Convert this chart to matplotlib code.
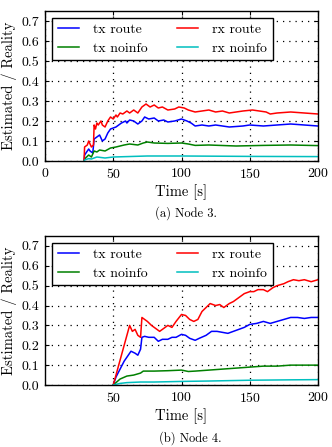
import matplotlib
matplotlib.use("Agg")
import matplotlib.pyplot as plt

plt.rcParams['font.family'] = 'serif'
plt.rcParams['font.serif'] = ['cmr10', 'DejaVu Serif']
plt.rcParams['axes.formatter.use_mathtext'] = True
plt.rcParams['mathtext.fontset'] = 'cm'

# ---------------- Node 3 data ----------------
n3_rx_route_t = [28.6, 29, 31, 32, 34, 35.5, 36, 37, 38, 39, 41, 42, 44, 46, 48, 50, 52, 53, 55, 57, 60,
                 62, 65, 68, 71, 74, 77, 80, 83, 86, 90, 95, 98, 102, 105, 110, 115, 120, 125, 130, 135,
                 140, 145, 152, 157, 162, 165, 170, 180, 190, 200]
n3_rx_route_v = [0.0, 0.07, 0.08, 0.10, 0.07, 0.08, 0.18, 0.16, 0.19, 0.18, 0.20, 0.18, 0.17, 0.20, 0.22,
                 0.21, 0.23, 0.22, 0.24, 0.235, 0.25, 0.24, 0.255, 0.24, 0.27, 0.285, 0.27, 0.28, 0.265,
                 0.27, 0.255, 0.26, 0.27, 0.265, 0.255, 0.245, 0.25, 0.255, 0.245, 0.25, 0.24, 0.245,
                 0.25, 0.255, 0.25, 0.245, 0.235, 0.24, 0.245, 0.24, 0.235]

n3_tx_route_t = [28.6, 29, 32, 33, 35, 36, 38, 40, 42, 44, 46, 48, 52, 54, 56, 59, 60, 62, 65, 68, 71,
                 73, 76, 80, 83, 87, 90, 95, 100, 104, 107, 110, 115, 120, 125, 135, 145, 150, 160, 170,
                 180, 190, 200]
n3_tx_route_v = [0.0, 0.03, 0.06, 0.05, 0.04, 0.11, 0.12, 0.13, 0.10, 0.11, 0.14, 0.16, 0.17, 0.18, 0.19,
                 0.20, 0.19, 0.205, 0.20, 0.185, 0.20, 0.22, 0.21, 0.215, 0.20, 0.205, 0.195, 0.20, 0.21,
                 0.20, 0.19, 0.175, 0.18, 0.175, 0.18, 0.17, 0.175, 0.18, 0.175, 0.18, 0.185, 0.18, 0.175]

n3_tx_noinfo_t = [28.6, 29, 32, 34, 36, 38, 40, 44, 48, 52, 55, 58, 62, 68, 72, 75, 80, 90, 100, 105,
                  110, 120, 140, 160, 180, 200]
n3_tx_noinfo_v = [0.0, 0.01, 0.03, 0.02, 0.05, 0.045, 0.055, 0.05, 0.065, 0.07, 0.075, 0.08, 0.085, 0.08,
                  0.09, 0.095, 0.09, 0.088, 0.09, 0.085, 0.078, 0.08, 0.075, 0.078, 0.08, 0.077]

n3_rx_noinfo_t = [28.6, 29, 32, 34, 38, 44, 50, 60, 75, 100, 150, 200]
n3_rx_noinfo_v = [0.0, 0.005, 0.012, 0.01, 0.02, 0.015, 0.02, 0.022, 0.025, 0.025, 0.023, 0.022]

# ---------------- Node 4 data ----------------
n4_rx_route_t = [50, 52, 54, 56, 58, 60, 62, 64, 66, 68, 70, 71, 73, 75, 78, 80, 84, 86, 90, 93, 96,
                 100, 103, 106, 109, 112, 115, 118, 121, 125, 128, 131, 135, 138, 142, 146, 150, 153,
                 156, 160, 163, 167, 170, 175, 178, 182, 186, 190, 195, 200]
n4_rx_route_v = [0.0, 0.05, 0.10, 0.15, 0.20, 0.25, 0.30, 0.27, 0.28, 0.25, 0.24, 0.34, 0.33, 0.32,
                 0.30, 0.29, 0.27, 0.28, 0.30, 0.29, 0.32, 0.355, 0.35, 0.33, 0.32, 0.33, 0.37, 0.39,
                 0.41, 0.40, 0.405, 0.39, 0.41, 0.42, 0.44, 0.46, 0.47, 0.47, 0.48, 0.48, 0.47, 0.49,
                 0.50, 0.51, 0.52, 0.53, 0.525, 0.53, 0.52, 0.53]

n4_tx_route_t = [50, 52, 55, 58, 61, 63, 66, 68, 70, 71, 73, 76, 80, 83, 86, 90, 93, 96, 100, 103, 106,
                 110, 113, 118, 122, 126, 130, 134, 138, 142, 146, 150, 155, 160, 165, 170, 175, 180,
                 185, 190, 195, 200]
n4_tx_route_v = [0.0, 0.04, 0.08, 0.12, 0.15, 0.17, 0.16, 0.15, 0.18, 0.24, 0.245, 0.24, 0.24, 0.22,
                 0.23, 0.23, 0.24, 0.24, 0.255, 0.25, 0.235, 0.225, 0.235, 0.25, 0.27, 0.27, 0.265,
                 0.26, 0.27, 0.28, 0.29, 0.305, 0.31, 0.32, 0.31, 0.32, 0.33, 0.34, 0.34, 0.335, 0.34,
                 0.34]

n4_tx_noinfo_t = [50, 55, 60, 65, 70, 72, 80, 90, 100, 105, 110, 120, 130, 140, 150, 160, 170, 180,
                  190, 200]
n4_tx_noinfo_v = [0.0, 0.03, 0.045, 0.05, 0.06, 0.07, 0.07, 0.072, 0.075, 0.068, 0.07, 0.075, 0.08,
                  0.085, 0.09, 0.095, 0.095, 0.10, 0.10, 0.10]

n4_rx_noinfo_t = [50, 55, 60, 70, 80, 100, 120, 150, 180, 200]
n4_rx_noinfo_v = [0.0, 0.008, 0.012, 0.015, 0.015, 0.018, 0.02, 0.024, 0.026, 0.027]

yticks = [0.0, 0.1, 0.2, 0.3, 0.4, 0.5, 0.6, 0.7]
xticks_a = [0, 50, 100, 150, 200]
xticks_b = [50, 100, 150, 200]

BLUE, RED, GREEN, CYAN = '#0000ff', '#ff0000', '#008000', '#00bfbf'

W, H = 332, 447
fig = plt.figure(figsize=(W / 100, H / 100), dpi=100)

def draw(ax, data, xticks):
    (txr_t, txr_v), (txn_t, txn_v), (rxr_t, rxr_v), (rxn_t, rxn_v) = data
    h1, = ax.plot(txr_t, txr_v, color=BLUE, lw=1.1, label='tx route')
    h2, = ax.plot(txn_t, txn_v, color=GREEN, lw=1.1, label='tx noinfo')
    h3, = ax.plot(rxr_t, rxr_v, color=RED, lw=1.1, label='rx route')
    h4, = ax.plot(rxn_t, rxn_v, color=CYAN, lw=1.1, label='rx noinfo')
    ax.set_xlim(0, 200)
    ax.set_ylim(0, 0.75)
    ax.set_xticks(xticks)
    ax.set_yticks(yticks)
    ax.set_yticklabels([f'{v:.1f}' for v in yticks])
    ax.grid(True, color='black', linestyle=(0, (1, 4)), linewidth=0.9)
    ax.tick_params(direction='in', top=True, right=True, labelsize=10, length=3, pad=4)
    for s in ax.spines.values():
        s.set_linewidth(1.0)
        s.set_color('black')
    ax.set_xlabel('Time [s]', fontsize=10.5, labelpad=3)
    ax.set_ylabel('Estimated / Reality', fontsize=10.5, labelpad=3)
    leg = ax.legend(handles=[h1, h2, h3, h4], ncol=2, loc='upper left',
                    bbox_to_anchor=(0.026, 0.953), fontsize=10, fancybox=False,
                    edgecolor='black', framealpha=1, handlelength=1.55,
                    columnspacing=2.1, handletextpad=1.0, borderpad=0.4,
                    labelspacing=0.4, borderaxespad=0)
    leg.get_frame().set_linewidth(1.0)

ax1 = fig.add_axes([45 / W, 1 - 161 / H, 273 / W, 150 / H])
draw(ax1, [(n3_tx_route_t, n3_tx_route_v), (n3_tx_noinfo_t, n3_tx_noinfo_v),
           (n3_rx_route_t, n3_rx_route_v), (n3_rx_noinfo_t, n3_rx_noinfo_v)], xticks_a)

ax2 = fig.add_axes([45 / W, 1 - 385 / H, 273 / W, 149 / H])
draw(ax2, [(n4_tx_route_t, n4_tx_route_v), (n4_tx_noinfo_t, n4_tx_noinfo_v),
           (n4_rx_route_t, n4_rx_route_v), (n4_rx_noinfo_t, n4_rx_noinfo_v)], xticks_b)

fig.text(186 / W, 1 - 213 / H, '(a) Node 3.', ha='center', va='center', fontsize=9)
fig.text(190 / W, 1 - 438 / H, '(b) Node 4.', ha='center', va='center', fontsize=9)

fig.savefig('out.png', dpi=100)
